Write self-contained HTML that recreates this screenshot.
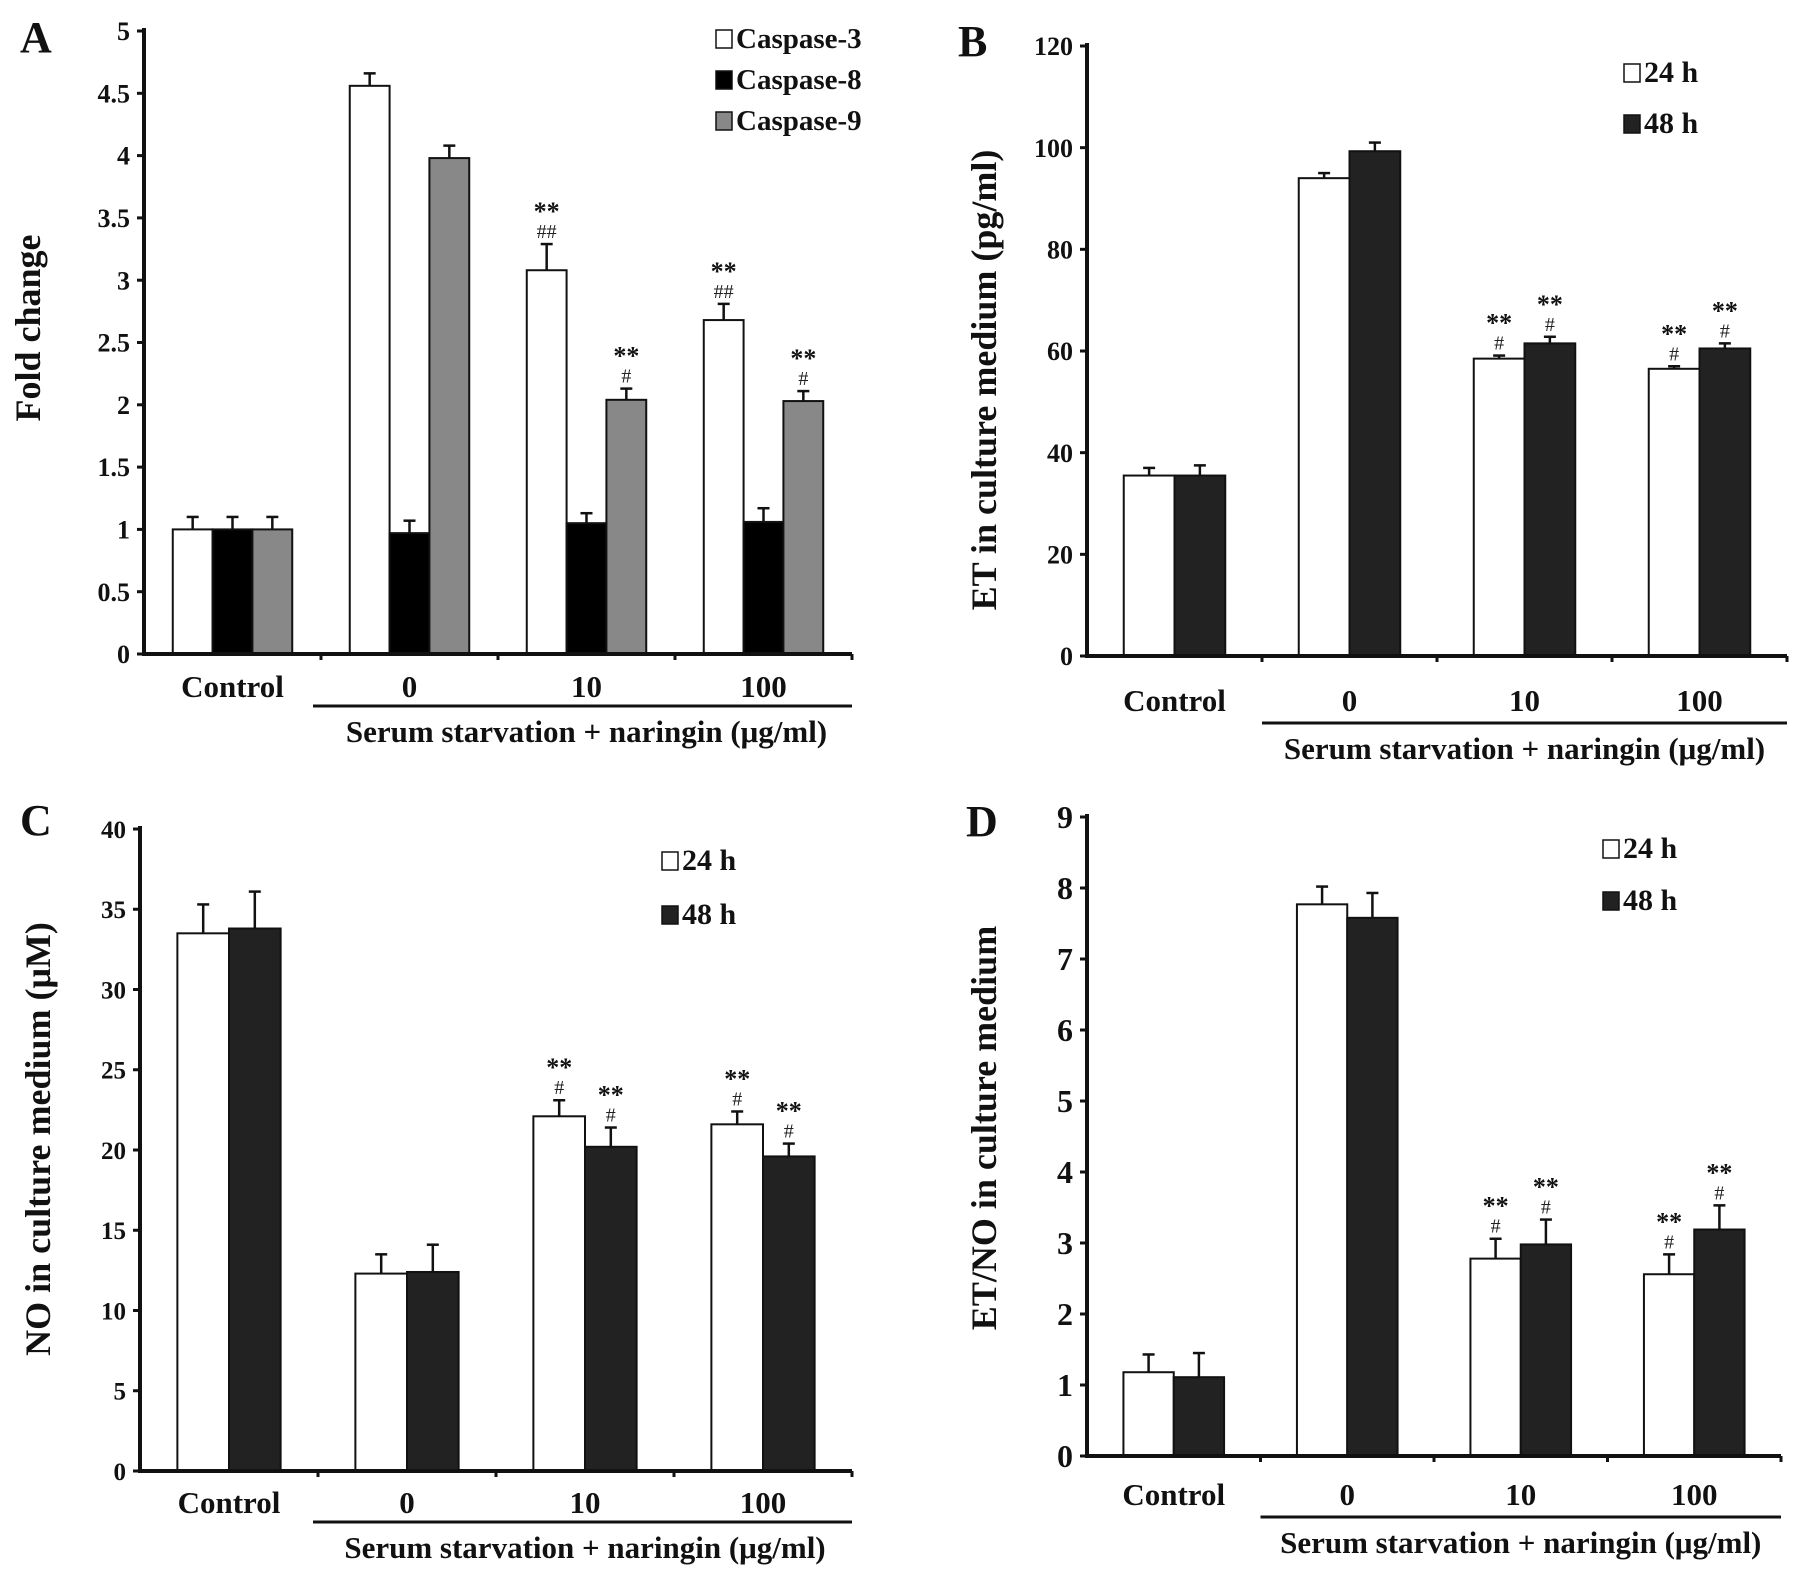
<!DOCTYPE html>
<html><head><meta charset="utf-8">
<style>
html,body{margin:0;padding:0;background:#fff;}
svg{display:block;font-family:"Liberation Serif",serif;font-weight:bold;}
</style></head>
<body>
<svg id="fig" width="1795" height="1570" viewBox="0 0 1795 1570" xmlns="http://www.w3.org/2000/svg"></svg>
<script>
// ---- data ----
const categories = ["Control","0","10","100"];
// Panel A
const aCaspase3 = [1.0, 4.56, 3.08, 2.68];
const aCaspase3Err = [0.10, 0.10, 0.21, 0.13];
const aCaspase8 = [1.0, 0.97, 1.05, 1.06];
const aCaspase8Err = [0.10, 0.10, 0.08, 0.11];
const aCaspase9 = [1.0, 3.98, 2.04, 2.03];
const aCaspase9Err = [0.10, 0.10, 0.09, 0.08];
const aTicks = ["0","0.5","1","1.5","2","2.5","3","3.5","4","4.5","5"];
// Panel B
const b24 = [35.5, 94.0, 58.5, 56.5];
const b24Err = [1.5, 1.0, 0.6, 0.5];
const b48 = [35.5, 99.3, 61.5, 60.5];
const b48Err = [2.0, 1.7, 1.3, 1.0];
const bTicks = ["0","20","40","60","80","100","120"];
// Panel C
const c24 = [33.5, 12.3, 22.1, 21.6];
const c24Err = [1.8, 1.2, 1.0, 0.8];
const c48 = [33.8, 12.4, 20.2, 19.6];
const c48Err = [2.3, 1.7, 1.2, 0.8];
const cTicks = ["0","5","10","15","20","25","30","35","40"];
// Panel D
const d24 = [1.18, 7.77, 2.78, 2.56];
const d24Err = [0.25, 0.25, 0.28, 0.28];
const d48 = [1.11, 7.58, 2.98, 3.19];
const d48Err = [0.34, 0.35, 0.35, 0.34];
const dTicks = ["0","1","2","3","4","5","6","7","8","9"];
const aSig = [[null,null,null],[null,null,null],[["**","##"],null,["**","#"]],[["**","##"],null,["**","#"]]];
const twoSig = [[null,null],[null,null],[["**","#"],["**","#"]],[["**","#"],["**","#"]]];

const NS="http://www.w3.org/2000/svg";
const svg=document.getElementById('fig');
function el(tag,attrs,parent){const e=document.createElementNS(NS,tag);for(const k in attrs)e.setAttribute(k,attrs[k]);(parent||svg).appendChild(e);return e;}
function txt(s,attrs,parent){const e=el('text',attrs,parent);e.textContent=s;return e;}

function panel(cfg){
  const g=el('g',{});
  
  
  const max=cfg.max;
  const yS=v=>cfg.y0-(v/max)*(cfg.y0-cfg.yTop);
  const gw=(cfg.x1-cfg.x0)/categories.length;
  const xG=i=>cfg.x0+gw*(i+0.5);
  const bw=gw*cfg.barFrac;
  const ns=cfg.series.length;
  cfg.series.forEach((ser,si)=>{
    ser.vals.forEach((v,i)=>{
      const bx=xG(i)-bw*ns/2+si*bw;
      const top=yS(v);
      const et=yS(v+ser.err[i]);
      const cx=bx+bw/2;
      const ln=el('line',{x1:cx,y1:top,x2:cx,y2:et,stroke:'#111','stroke-width':2.5},g);
      
      
      const cap=el('line',{x1:cx-6,y1:et,x2:cx+6,y2:et,stroke:'#111','stroke-width':2.5},g);
      
      
      const r=el('rect',{x:bx,y:top,width:bw,height:cfg.y0-top,fill:ser.fill,stroke:'#111','stroke-width':2},g);
      
      
      const sig=cfg.sig[i][si];
      if(sig){
        const t1=txt(sig[1],{x:cx,y:et-6,'font-size':20,'font-weight':'normal','text-anchor':'middle',fill:'#222'},g);
        
        
        const t2=txt(sig[0],{x:cx,y:et-24,'font-size':26,'text-anchor':'middle',fill:'#111'},g);
        
        
      }
    });
  });
  const ya=el('line',{x1:cfg.x0,y1:cfg.yTop-3,x2:cfg.x0,y2:cfg.y0+2,stroke:'#111','stroke-width':4},g);
  
  
  const xa=el('line',{x1:cfg.x0-2,y1:cfg.y0,x2:cfg.x1,y2:cfg.y0,stroke:'#111','stroke-width':4},g);
  
  
  cfg.ticks.forEach((t,i)=>{
    const v=i*cfg.step, y=yS(v);
    el('line',{x1:cfg.x0-7,y1:y,x2:cfg.x0,y2:y,stroke:'#111','stroke-width':3},g);
    const tl=txt(t,{x:cfg.x0-14,y:y+cfg.tickFs*0.35,'font-size':cfg.tickFs,'text-anchor':'end',fill:'#111'},g);
    
    
  });
  for(let i=1;i<=categories.length;i++){
    const x=cfg.x0+gw*i;
    el('line',{x1:x,y1:cfg.y0,x2:x,y2:cfg.y0+6,stroke:'#111','stroke-width':3},g);
  }
  categories.forEach((c,i)=>{
    const cl=txt(c,{x:xG(i),y:cfg.catY,'font-size':31,'text-anchor':'middle',fill:'#111'},g);
    
    
  });
  const ul=el('line',{x1:cfg.x0+gw+(cfg.ulPad||0),y1:cfg.ulY,x2:cfg.x1,y2:cfg.ulY,stroke:'#111','stroke-width':3},g);
  
  
  const xt=txt('Serum starvation + naringin (μg/ml)',{x:(cfg.x0+gw+cfg.x1)/2,y:cfg.ulY+36,'font-size':31,'text-anchor':'middle',fill:'#111'},g);
  
  
  const yt=txt(cfg.ytitle,{x:0,y:0,'font-size':36,'text-anchor':'middle',fill:'#111',transform:`translate(${cfg.ytX},${cfg.ytY}) rotate(-90)`},g);
  
  
  const pl=txt(cfg.letter,{x:cfg.letX,y:cfg.letY,'font-size':44,fill:'#111'},g);
  
  
  cfg.series.forEach((ser,si)=>{
    const ly=cfg.legY+si*cfg.legGap;
    const s=el('rect',{x:cfg.legX,y:ly-18,width:16,height:18,fill:ser.fill,stroke:'#111','stroke-width':1.5},g);
    
    
    const lt=txt(ser.label,{x:cfg.legX+20,y:ly,'font-size':cfg.legFs,fill:'#111'},g);
    
    
  });
}

panel({name:'panel-a-caspase',letter:'A',letX:20,letY:52,x0:144,x1:852,y0:654,yTop:31,max:5,step:0.5,ticks:aTicks,tickFs:26,barFrac:0.225,
  series:[{key:'caspase3',label:'Caspase-3',vals:aCaspase3,err:aCaspase3Err,fill:'#fff'},
          {key:'caspase8',label:'Caspase-8',vals:aCaspase8,err:aCaspase8Err,fill:'#000'},
          {key:'caspase9',label:'Caspase-9',vals:aCaspase9,err:aCaspase9Err,fill:'#888'}],
  sig:aSig,catY:697,ulY:706,ulPad:-8,ytitle:'Fold change',ytX:40,ytY:328,legX:716,legY:48,legGap:41,legFs:29});

panel({name:'panel-b-et',letter:'B',letX:958,letY:56,x0:1087,x1:1787,y0:656,yTop:46,max:120,step:20,ticks:bTicks,tickFs:26,barFrac:0.29,
  series:[{key:'24h',label:'24 h',vals:b24,err:b24Err,fill:'#fff'},
          {key:'48h',label:'48 h',vals:b48,err:b48Err,fill:'#222'}],
  sig:twoSig,catY:711,ulY:723,ytitle:'ET in culture medium (pg/ml)',ytX:996,ytY:380,legX:1624,legY:82,legGap:51,legFs:30});

panel({name:'panel-c-no',letter:'C',letX:20,letY:835,x0:140,x1:852,y0:1471,yTop:829,max:40,step:5,ticks:cTicks,tickFs:25,barFrac:0.29,
  series:[{key:'24h',label:'24 h',vals:c24,err:c24Err,fill:'#fff'},
          {key:'48h',label:'48 h',vals:c48,err:c48Err,fill:'#222'}],
  sig:twoSig,catY:1513,ulY:1522,ulPad:-5,ytitle:'NO in culture medium (μM)',ytX:50,ytY:1139,legX:662,legY:870,legGap:54,legFs:30});

panel({name:'panel-d-et-no-ratio',letter:'D',letX:966,letY:836,x0:1087,x1:1781,y0:1456,yTop:817,max:9,step:1,ticks:dTicks,tickFs:32,barFrac:0.29,
  series:[{key:'24h',label:'24 h',vals:d24,err:d24Err,fill:'#fff'},
          {key:'48h',label:'48 h',vals:d48,err:d48Err,fill:'#222'}],
  sig:twoSig,catY:1505,ulY:1517,ytitle:'ET/NO in culture medium',ytX:996,ytY:1128,legX:1603,legY:858,legGap:52,legFs:30});
</script>
</body></html>
